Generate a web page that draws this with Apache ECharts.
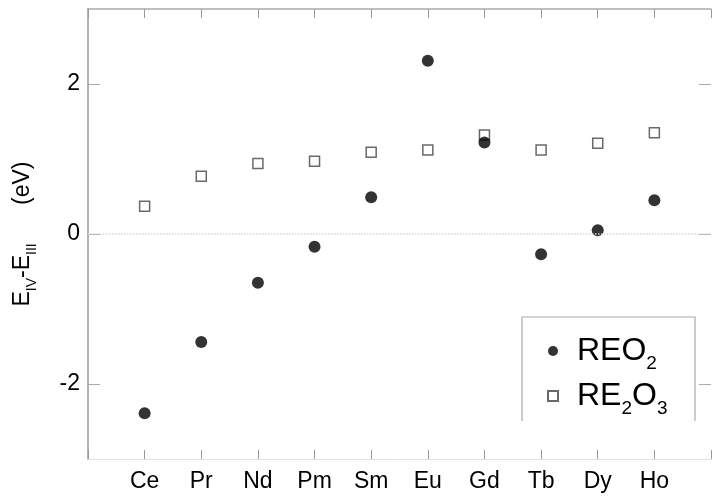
<!DOCTYPE html>
<html>
<head>
<meta charset="utf-8">
<script src="https://cdn.jsdelivr.net/npm/echarts@6/dist/echarts.min.js"></script>
<style>html,body{margin:0;padding:0;background:#fff}#c{width:714px;height:501px}</style>
</head>
<body>
<div id="c"></div>
<script>
const categories = ['Ce','Pr','Nd','Pm','Sm','Eu','Gd','Tb','Dy','Ho'];
const reo2 = [-2.39, -1.44, -0.65, -0.17, 0.49, 2.31, 1.22, -0.27, 0.05, 0.45];
const re2o3 = [0.37, 0.77, 0.94, 0.97, 1.09, 1.12, 1.32, 1.12, 1.21, 1.35];
const yTicks = [-2, 0, 2];

const font = 'Liberation Sans';
const chart = echarts.init(document.getElementById('c'), null, {renderer: 'canvas'});
const xBase = {
  type: 'value', min: -1, max: 10, interval: 1,
  splitLine: {show: false},
  axisTick: {show: true, inside: true, length: 9, lineStyle: {color: '#999', width: 1}}
};
chart.setOption({
  animation: false,
  backgroundColor: '#fff',
  grid: {left: 88, top: 9, right: -5, bottom: 42},
  xAxis: [
    Object.assign({}, xBase, {
      position: 'bottom',
      axisLine: {show: true, onZero: false, lineStyle: {color: '#e0e0e0', width: 1}},
      axisLabel: {
        margin: 11, color: '#000', fontFamily: font, fontSize: 23,
        formatter: v => (v >= 0 && v < categories.length) ? categories[v] : ''
      }
    }),
    Object.assign({}, xBase, {
      position: 'top',
      axisLine: {show: true, onZero: false, lineStyle: {color: '#aaa', width: 1.5}},
      axisLabel: {show: false}
    })
  ],
  yAxis: [
    {
      type: 'value', min: -3, max: 3, interval: 1, position: 'left',
      splitLine: {show: false},
      axisLine: {show: true, onZero: false, lineStyle: {color: '#999', width: 1.5}},
      axisTick: {show: true, inside: true, length: 12, customValues: yTicks, lineStyle: {color: '#aaa'}},
      axisLabel: {
        margin: 8, color: '#000', fontFamily: font, fontSize: 23, customValues: yTicks,
        formatter: v => String(v)
      },
      name: '{b|E}{s|IV}{b|-E}{s|III}{b|      (eV)}',
      nameLocation: 'middle', nameRotate: 90, nameGap: 52,
      nameTextStyle: {
        rich: {
          b: {fontFamily: font, fontSize: 23, color: '#000', lineHeight: 26},
          s: {fontFamily: font, fontSize: 14, color: '#000', verticalAlign: 'bottom', lineHeight: 14, padding: [0, 0, -3, 0]}
        }
      }
    },
    {
      type: 'value', min: -3, max: 3, interval: 1, position: 'right',
      splitLine: {show: false},
      axisLine: {show: false, onZero: false},
      axisTick: {show: true, inside: true, length: 12, customValues: yTicks, lineStyle: {color: '#aaa'}},
      axisLabel: {show: false}
    }
  ],
  legend: {
    orient: 'vertical', left: 542, top: 330,
    itemWidth: 10, itemHeight: 10, itemGap: 7,
    data: ['REO2', 'RE2O3'],
    formatter: name => name === 'REO2' ? '{g|}{m|REO}{s|2}' : '{g|}{m|RE}{s|2}{m|O}{s|3}',
    textStyle: {
      rich: {
        g: {width: 14},
        m: {fontFamily: font, fontSize: 32, color: '#000', lineHeight: 34},
        s: {fontFamily: font, fontSize: 19, color: '#000', verticalAlign: 'bottom', lineHeight: 19, padding: [0, 0, -5, 0]}
      }
    }
  },
  graphic: [{
    type: 'polyline', silent: true,
    shape: {points: [[522, 421], [522, 317], [695, 317], [695, 421]]},
    style: {stroke: '#aaa', lineWidth: 1.2, fill: null}
  }],
  series: [
    {
      name: 'RE2O3', type: 'scatter', xAxisIndex: 0, yAxisIndex: 0,
      symbol: 'rect', symbolSize: 10,
      itemStyle: {color: '#fff', borderColor: '#444', borderWidth: 1.5},
      data: categories.map((c, i) => [i, re2o3[i]]),
      markLine: {
        silent: true, symbol: 'none', label: {show: false},
        lineStyle: {type: 'dotted', color: '#d8d8d8', width: 1.5},
        data: [{yAxis: 0}]
      }
    },
    {
      name: 'REO2', type: 'scatter', xAxisIndex: 0, yAxisIndex: 0,
      symbol: 'circle', symbolSize: 12,
      itemStyle: {color: '#000'},
      data: categories.map((c, i) => [i, reo2[i]])
    }
  ]
});
</script>
</body>
</html>
